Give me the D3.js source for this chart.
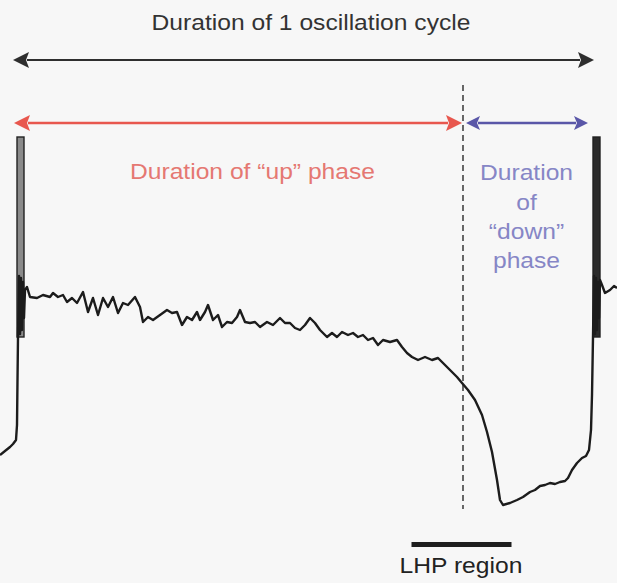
<!DOCTYPE html>
<html>
<head>
<meta charset="utf-8">
<script src="https://cdn.jsdelivr.net/npm/d3@7"></script>
<style>
  html, body { margin: 0; padding: 0; background: #f7f7f7; }
  svg { display: block; }
  text { font-family: "Liberation Sans", Arial, sans-serif; }
</style>
</head>
<body>
<svg id="chart" width="617" height="583"></svg>
<script>
// Membrane potential trace over one slow oscillation cycle (time in ms, Vm in mV)
const traceTimeMs = [
  0, 10, 20, 26, 32, 34, 35, 36,
  38, 40, 42, 44, 46, 48, 50,
  54, 60, 74, 86, 100, 106, 116, 126, 134, 144, 154, 166, 176, 186, 196, 206,
  216, 226, 236, 246, 256, 270, 280, 286, 296, 306, 320, 334, 344, 354, 364,
  374, 384, 394, 400, 410, 416, 426, 436, 444, 454, 464, 474, 480, 490, 500,
  510, 520, 534, 546, 560, 570, 580, 590, 600, 610, 620, 630, 640, 654, 664,
  674, 684, 696, 706, 716, 726, 736, 746, 756, 766, 780, 794, 804, 814, 824,
  836, 850, 864, 876, 886, 900, 914, 924, 936, 950, 964, 974, 984, 994, 1000,
  1006, 1020, 1034, 1046, 1060, 1070, 1080, 1090, 1100, 1110, 1120, 1130, 1136,
  1144, 1154, 1164, 1172, 1178, 1182, 1184, 1186,
  1188, 1190, 1192, 1194, 1196, 1198, 1200,
  1204, 1210, 1220, 1228, 1234
];
const traceVm = [
  -68, -67.2, -66.4, -65.8, -65, -62, -53, -44.4,
  -32.2, -43.8, -32.6, -43, -33.4, -40.6, -35,
  -34.4, -36.4, -36.6, -36, -36.4, -35.6, -36.4, -36, -37.4, -36.6, -37.6, -35.4, -39.4, -36.6, -40, -36.6,
  -38.4, -36.4, -39.6, -37.6, -38, -36.4, -38.4, -41.4, -40.4, -41, -40, -39, -39.6, -39.4, -42,
  -40.4, -41, -39.4, -41, -39.4, -38, -41, -40, -42.4, -41.4, -41.6, -40.4, -39, -41.4, -41.6,
  -41.4, -42.4, -41.4, -42, -40.6, -41.6, -41.6, -42.6, -43, -42, -40.6, -41.6, -43, -44.4, -43.6,
  -44.4, -43.4, -44, -43.6, -44.4, -44, -45, -44.6, -46, -45, -45.4, -45, -46.4, -47.6, -48.4,
  -49, -48.4, -49, -48.6, -49.6, -51, -52.4, -53.6, -55, -57, -60, -63.4, -67.4, -73, -77,
  -78, -77.6, -77, -76.4, -75.4, -75, -74.2, -74, -73.6, -73.8, -73.4, -73.2, -72.6,
  -71, -69.6, -68.6, -68.2, -67, -63, -56, -44.4,
  -32.2, -43.8, -32.6, -43, -33.4, -40.6, -33,
  -34, -35.6, -35, -34.2, -34.6
];

// Action potential bursts at the start of each up state
const burstOnsetMs = [34, 1186];
const burstOffsetMs = [48, 1200];
const burstFill = ["#8a8a8a", "#2b2b2b"];
const spikePeakMv = -4.4;
const spikeBaseMv = -44.4;

// Phase annotations (ms)
const cycleMs = [26, 1188];
const upPhaseMs = [28, 924];
const downPhaseMs = [932, 1176];
const transitionMs = 926;
const lhpRegionMs = [823, 1023];

// Labels
const titleLabel = "Duration of 1 oscillation cycle";
const upLabel = "Duration of \u201cup\u201d phase";
const downLabelLines = ["Duration", "of", "\u201cdown\u201d", "phase"];
const lhpLabel = "LHP region";

const W = 617, H = 583;
const svg = d3.select("#chart");
svg.append("rect").attr("width", W).attr("height", H).attr("fill", "#f7f7f7");

const x = d3.scaleLinear().domain([0, 1234]).range([0, 617]);
const y = d3.scaleLinear().domain([-80, 0]).range([515, 115]);

// Text drawn slightly stretched horizontally, as in the figure's lettering
function label(txt, cx, baseline, color) {
  svg.append("text")
    .attr("transform", `translate(${cx},${baseline}) scale(1.12,1)`)
    .attr("text-anchor", "middle")
    .attr("font-size", 22)
    .attr("fill", color)
    .text(txt);
}

function arrow(t0, t1, yPos, color, headLen, headHalf, width) {
  const x0 = x(t0), x1 = x(t1);
  const g = svg.append("g");
  g.append("line")
    .attr("x1", x0 + headLen - 2).attr("x2", x1 - headLen + 2)
    .attr("y1", yPos).attr("y2", yPos)
    .attr("stroke", color).attr("stroke-width", width);
  g.append("path")
    .attr("d", `M${x0},${yPos} L${x0 + headLen},${yPos - headHalf} L${x0 + headLen - 3},${yPos} L${x0 + headLen},${yPos + headHalf} Z`)
    .attr("fill", color);
  g.append("path")
    .attr("d", `M${x1},${yPos} L${x1 - headLen},${yPos - headHalf} L${x1 - headLen + 3},${yPos} L${x1 - headLen},${yPos + headHalf} Z`)
    .attr("fill", color);
}

// Title and cycle arrow
label(titleLabel, 311, 30, "#333333");
arrow(cycleMs[0], cycleMs[1], 60, "#2e2e2e", 16, 8, 2.2);

// Up / down phase arrows
arrow(upPhaseMs[0], upPhaseMs[1], 123, "#e8574e", 16, 8, 2.4);
arrow(downPhaseMs[0], downPhaseMs[1], 123, "#5a57a8", 14, 7, 2.4);

// Transition marker between up and down phases
svg.append("line")
  .attr("x1", x(transitionMs)).attr("x2", x(transitionMs))
  .attr("y1", 85).attr("y2", 509)
  .attr("stroke", "#2a2a2a").attr("stroke-width", 1.4)
  .attr("stroke-dasharray", "6,4");

label(upLabel, 252.5, 179, "#e57872");
const downLineBaselines = [180, 210, 239, 268];
downLabelLines.forEach((t, i) => label(t, 526.5, downLineBaselines[i], "#8686c6"));

// Spike bursts
burstOnsetMs.forEach((t, i) => {
  svg.append("rect")
    .attr("x", x(t)).attr("y", y(spikePeakMv))
    .attr("width", x(burstOffsetMs[i]) - x(t))
    .attr("height", y(spikeBaseMv) - y(spikePeakMv))
    .attr("fill", burstFill[i])
    .attr("stroke", "#222").attr("stroke-width", 1.4);
});

// Voltage trace
const pts = traceTimeMs.map((t, i) => [t, traceVm[i]]);
svg.append("path")
  .datum(pts)
  .attr("d", d3.line().x(d => x(d[0])).y(d => y(d[1])))
  .attr("fill", "none")
  .attr("stroke", "#1c1c1c")
  .attr("stroke-width", 2.4)
  .attr("stroke-linejoin", "round");

// LHP region bar and label
svg.append("line")
  .attr("x1", x(lhpRegionMs[0])).attr("x2", x(lhpRegionMs[1]))
  .attr("y1", 544.5).attr("y2", 544.5)
  .attr("stroke", "#1e1e1e").attr("stroke-width", 5);
label(lhpLabel, 461, 573, "#222222");
</script>
</body>
</html>
